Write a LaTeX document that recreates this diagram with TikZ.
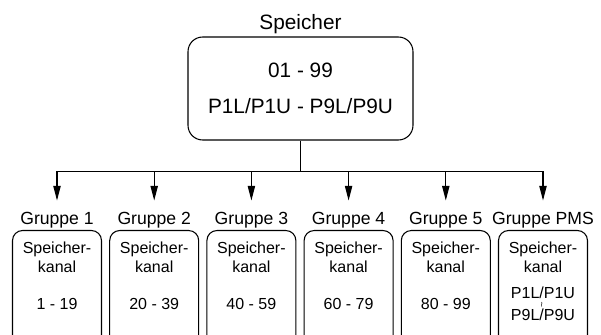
\documentclass[tikz,border=0pt]{standalone}
\usepackage{fontspec}
\setmainfont{Liberation Sans}
\usetikzlibrary{arrows.meta, positioning, calc}

\begin{document}
\begin{tikzpicture}[x=0.75pt, y=-0.75pt, line width=0.8pt,
  every node/.style={font=\fontsize{13.2}{15}\selectfont},
  hauptbox/.style={draw, rounded corners=11pt, inner sep=0pt,
    minimum width=168.75pt, minimum height=77.25pt, align=center,
    font=\fontsize{15.6}{26.6}\selectfont},
  gruppe/.style={anchor=base, inner xsep=0pt, inner ysep=8pt},
  kanalbox/.style={draw, rounded corners=7.5pt, anchor=north,
    minimum width=66.75pt, minimum height=90pt},
  inhalt/.style={anchor=north, inner sep=0pt, align=center,
    font=\fontsize{12}{14.25}\selectfont},
  pfeil/.style={-{Triangle[length=11pt, width=5.5pt]}}]
  \useasboundingbox (0,0) rectangle (601,335);
  \clip (0,0) rectangle (601,335);
  % Speicher (oben)
  \node[font=\fontsize{15.6}{18}\selectfont, anchor=base] (titel) at (300.5,29.5) {Speicher};
  \node[hauptbox] (speicher) at (300.5,88.5) {01 - 99\\P1L/P1U - P9L/P9U};
  % Gruppen mit Pfeilen
  \foreach \i/\grp in {1/1, 2/2, 3/3, 4/4, 5/5, 6/PMS} {
    \pgfmathsetmacro{\xk}{57+97.2*(\i-1)}
    \coordinate (k\i) at (\xk,171.5);
    \node[gruppe] (g\i) at (\xk,224) {Gruppe \grp};
    \node[kanalbox] (box\i) at (\xk,230) {};
    \draw[pfeil] (k\i) -- (g\i.north);
  }
  % Verteiler
  \draw[line cap=rect] (k1) -- (k6);
  \draw (speicher.south) -- (speicher.south |- k1);
  % Speicherkanaele
  \foreach \i/\von in {1/1 - 19, 2/20 - 39, 3/40 - 59, 4/60 - 79, 5/80 - 99} {
    \node[inhalt] (txt\i) at ([yshift=-8.25pt]box\i.north) {Speicher-\\kanal\\[13.75pt]\von};
  }
  \node[inhalt] (txt6) at ([yshift=-8.25pt]box6.north)
    {Speicher-\\kanal\\[5.25pt]P1L/P1U\\[-5.8pt]\raisebox{1.5pt}{\rotatebox{90}{\fontsize{7}{7}\selectfont\textasciitilde}}\\[-5.8pt]P9L/P9U};
\end{tikzpicture}
\end{document}
